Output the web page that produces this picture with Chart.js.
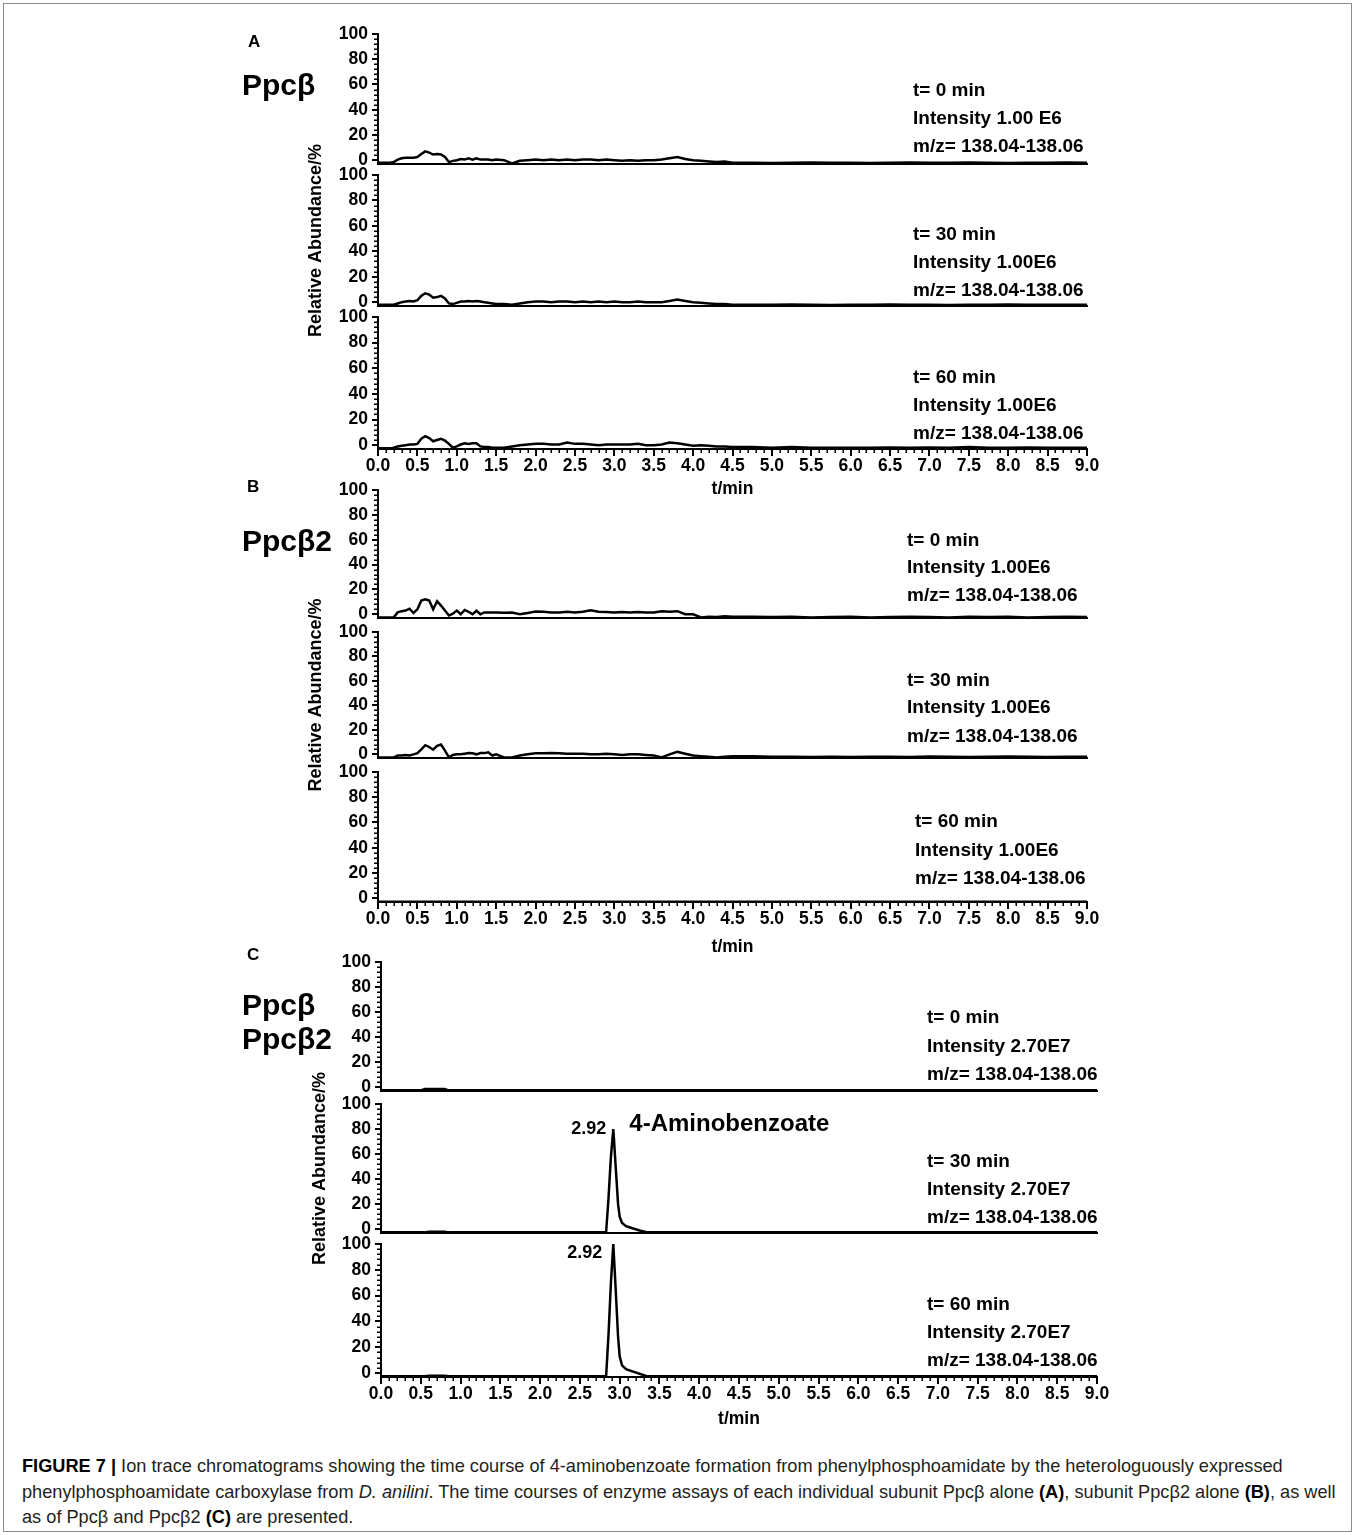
<!DOCTYPE html>
<html>
<head>
<meta charset="utf-8">
<script src="https://cdn.jsdelivr.net/npm/chart.js@4.4.1/dist/chart.umd.min.js"></script>
<style>
  html, body { margin: 0; padding: 0; background: #fff; }
  #page { position: relative; width: 1357px; height: 1535px; overflow: hidden; }
  #page canvas { position: absolute; left: 0; top: 0; }
  #frame { position: absolute; left: 3px; top: 3px; width: 1349px; height: 1529px; border: 1px solid #8a8a8a; box-sizing: border-box; }
  #caption { position: absolute; left: 22px; top: 1454px; font: 18.2px 'Liberation Sans', Arial, sans-serif; line-height: 25.5px; color: #231f20; white-space: nowrap; }
  #caption b { color: #000; }
</style>
</head>
<body>
<div id="page">
  <div id="frame"></div>
  <div id="caption">
    <b>FIGURE 7 |</b> Ion trace chromatograms showing the time course of 4-aminobenzoate formation from phenylphosphoamidate by the heterologuously expressed<br>
    phenylphosphoamidate carboxylase from <i>D. anilini</i>. The time courses of enzyme assays of each individual subunit Ppcβ alone <b>(A)</b>, subunit Ppcβ2 alone <b>(B)</b>, as well<br>
    as of Ppcβ and Ppcβ2 <b>(C)</b> are presented.
  </div>
</div>
<script>
// sample times (min) for the noisy baseline traces
const noiseTimes = [
  0, 0.05, 0.1, 0.15, 0.2, 0.25, 0.3, 0.35, 0.4, 0.45, 0.5, 0.55, 0.6, 0.65, 0.7, 0.75,
  0.8, 0.85, 0.9, 0.95, 1.0, 1.05, 1.1, 1.15, 1.2, 1.25, 1.3, 1.35, 1.4, 1.45, 1.5,
  1.6, 1.7, 1.8, 1.9, 2.0, 2.1, 2.2, 2.3, 2.4, 2.5, 2.6, 2.7, 2.8, 2.9, 3.0,
  3.1, 3.2, 3.3, 3.4, 3.5, 3.6, 3.7, 3.8, 3.9, 4.0, 4.1, 4.2, 4.3, 4.4, 4.5,
  4.75, 5.0, 5.25, 5.5, 5.75, 6.0, 6.25, 6.5, 6.75, 7.0, 7.25, 7.5, 7.75, 8.0, 8.25, 8.5, 8.75, 9.0
]

// relative abundance (%)
const a1Values = [
  -2, -2, -2, -2, -1.5, 0.5, 1.5, 2, 2, 2, 2.5, 5, 7, 6, 4.5, 5,
  4.5, 2.5, -1.5, -0.5, 0, 1, 0.5, 1.5, 0.5, 1.5, 0.5, 0.5, 0.5, 0, 0.5,
  0, -2.5, -0.5, 0, 0.5, 0, 0.5, 0, 0.5, 0, 0.5, 0.5, 0, 0.5, 0,
  -0.5, 0, -0.5, 0, 0, 0.5, 1.5, 2.5, 1, 0, -0.5, -1, -1.5, -1, -2,
  -2, -2.2, -2, -1.8, -2, -2, -2.2, -2, -1.8, -2, -2, -1.8, -2, -2.2, -2, -2, -1.8, -2
]
const a2Values = [
  -2, -2, -2, -2, -2, -1, 0, 0.5, 1, 0.5, 1.5, 5, 7, 6, 3.5, 4,
  5, 3, -1, -1.5, -0.5, 0.5, 0.5, 1, 0.5, 1, 0.5, 0, -0.5, -1, -1.5,
  -1.5, -2, -1, 0, 0.5, 0.5, 0, 0.5, 0.5, 0, 0.5, 0, 0.5, 0, 0.5,
  0, 0, 0.5, 0, 0, 0, 1, 2, 1, 0, -0.5, -1, -1.5, -1.5, -2,
  -2, -2, -1.8, -2, -2.2, -2, -2, -1.8, -2, -2, -2.2, -2, -2, -1.8, -2, -2, -2, -2
]
const a3Values = [
  -2.5, -2.5, -2.5, -2.5, -2, -1, -0.5, 0, 0.5, 0.5, 1, 5, 7, 5.5, 3, 4,
  5, 3.5, 1, -2, -1, 0.5, 1.5, 1, 1.5, 1.5, -1, -1.5, -1.5, -2, -2,
  -2, -1, 0, 0.5, 1, 1, 0.5, 0.5, 2, 1, 1, 0.5, 0, 0.5, 0.5,
  0.5, 0.5, 1, 0, 0, 0.5, 2, 1.5, 0.5, -0.5, 0, -0.5, -1, -1, -1.5,
  -1.5, -2, -1.5, -2, -2, -2, -2, -1.8, -2, -1.8, -2, -1.5, -2, -2, -1.8, -2, -2, -2
]
const b1Values = [
  -2.5, -2.5, -2.5, -2.5, -2.5, 1.5, 2.5, 3, 4.5, 1, 4, 11, 12, 11, 4, 10.5,
  7, 3, -1, 0.5, 3, 0, 3.5, 2, 0, 2.8, 0, 1.5, 1.5, 1.5, 1.5,
  1.2, 1.4, 0, 1, 2.2, 2, 1.5, 1.5, 2, 1.5, 2, 3.3, 2, 1.8, 1.5,
  1.8, 1.5, 1.8, 1.5, 1.5, 2.5, 2, 2.5, 0, 0, -2.5, -2, -2.2, -1.5, -2,
  -2, -2.2, -2, -2.5, -2.2, -2, -2.5, -2.2, -2, -2.2, -2.5, -2, -2.2, -2, -2.5, -2.2, -2, -2.2
]
const b2Values = [
  -2.5, -2.5, -2.5, -2.5, -2.5, -1, -1, -0.5, -1, 0, 1, 4, 7.5, 6, 3.8, 7,
  8, 3, -2.5, -0.5, 0, 0, 0.5, 1, 0.8, 0, 1, 1, 1.6, -1, 0,
  -2.5, -2.5, -1, 0, 0.8, 0.8, 1, 0.8, 0.5, 0.5, 0.5, 0, 0, 0.5, 0,
  -0.5, 0, 0, -0.5, -1, -2.5, 0, 2, 0.5, -1, -1.5, -2, -2.5, -2, -1.5,
  -1.5, -2, -2, -2.2, -2, -2.2, -2, -2, -2.2, -1.8, -2, -2.2, -2, -1.8, -2, -2.2, -2, -2
]
const flatTimes = [0, 9]
const b3Values = [-2.8, -2.8]
const c1Times = [0, 0.5, 0.55, 0.8, 0.85, 9]
const c1Values = [-2.5, -2.5, -1.5, -1.5, -2.5, -2.5]
const peakTimes = [0, 0.55, 0.6, 0.8, 0.85, 2.8, 2.83, 2.86, 2.89, 2.92, 2.95, 2.98, 3.0, 3.03, 3.08, 3.15, 3.25, 3.35, 9]
const c2Values = [-2.5, -2.5, -2, -2, -2.5, -2.5, -2, 25, 58, 80, 50, 20, 10, 5, 2.5, 1, -1, -2.5, -2.5]
const c3Values = [-2.5, -2.5, -2, -2, -2.5, -2.5, -2, 30, 70, 100, 65, 28, 13, 6, 3, 1.5, -0.5, -2.5, -2.5]

const xTicks = [0, 0.5, 1, 1.5, 2, 2.5, 3, 3.5, 4, 4.5, 5, 5.5, 6, 6.5, 7, 7.5, 8, 8.5, 9]
const yTicks = [0, 20, 40, 60, 80, 100]
const yMinorStep = 4
const xMinorStep = 0.1

const PAGE_W = 1357
const PAGE_H = 1535
const FONT = "'Liberation Sans', Arial, Helvetica, sans-serif"
const bold = (size) => `bold ${size}px ${FONT}`

const info = (x, ys, t, intensity) => [
  { text: t, x, y: ys[0], font: bold(19) },
  { text: intensity, x, y: ys[1], font: bold(19) },
  { text: "m/z= 138.04-138.06", x, y: ys[2], font: bold(19) }
]

const subplots = [
  { times: noiseTimes, values: a1Values, axisX: 378, right: 1087, top: 34, bottom: 164,
    texts: info(913, [91, 119, 147], "t= 0 min", "Intensity 1.00 E6"),
    labels: [{ text: "A", x: 248, y: 47, font: bold(17) }, { text: "Ppcβ", x: 242, y: 95, font: bold(30) }] },
  { times: noiseTimes, values: a2Values, axisX: 378, right: 1087, top: 175, bottom: 306, yTitleX: 316,
    texts: info(913, [235, 263, 291], "t= 30 min", "Intensity 1.00E6") },
  { times: noiseTimes, values: a3Values, axisX: 378, right: 1087, top: 317, bottom: 449, showX: true, titleOffset: 41,
    texts: info(913, [378, 406, 434], "t= 60 min", "Intensity 1.00E6") },

  { times: noiseTimes, values: b1Values, axisX: 378, right: 1087, top: 490, bottom: 618,
    texts: info(907, [541, 568, 596], "t= 0 min", "Intensity 1.00E6"),
    labels: [{ text: "B", x: 247, y: 492, font: bold(17) }, { text: "Ppcβ2", x: 242, y: 551, font: bold(30) }] },
  { times: noiseTimes, values: b2Values, axisX: 378, right: 1087, top: 632, bottom: 758, yTitleX: 316,
    texts: info(907, [681, 708, 737], "t= 30 min", "Intensity 1.00E6") },
  { times: flatTimes, values: b3Values, axisX: 378, right: 1087, top: 772, bottom: 902, showX: true, titleOffset: 46,
    texts: info(915, [822, 851, 879], "t= 60 min", "Intensity 1.00E6") },

  { times: c1Times, values: c1Values, axisX: 381, right: 1097, top: 962, bottom: 1091,
    texts: info(927, [1018, 1047, 1075], "t= 0 min", "Intensity 2.70E7"),
    labels: [{ text: "C", x: 247, y: 960, font: bold(17) }, { text: "Ppcβ", x: 242, y: 1015, font: bold(30) },
             { text: "Ppcβ2", x: 242, y: 1049, font: bold(30) }] },
  { times: peakTimes, values: c2Values, axisX: 381, right: 1097, top: 1104, bottom: 1233, yTitleX: 320,
    texts: info(927, [1162, 1190, 1218], "t= 30 min", "Intensity 2.70E7"),
    peak: { at: 2.92, label: "2.92", dx: -7, dy: 0, name: "4-Aminobenzoate" } },
  { times: peakTimes, values: c3Values, axisX: 381, right: 1097, top: 1244, bottom: 1377, showX: true, titleOffset: 43,
    texts: info(927, [1305, 1333, 1361], "t= 60 min", "Intensity 2.70E7"),
    peak: { at: 2.92, label: "2.92", dx: -11, dy: 9 } }
]

// minor ticks, side texts and peak labels
const decor = {
  id: "decor",
  afterDraw(chart, args, opts) {
    const { ctx, chartArea, scales: { x, y } } = chart
    ctx.save()
    ctx.strokeStyle = "#000"
    ctx.lineWidth = 1.5
    ctx.beginPath()
    for (let v = 0; v <= 100; v += yMinorStep) {
      if (v % 20 === 0) continue
      const py = Math.round(y.getPixelForValue(v)) + 0.25
      ctx.moveTo(chartArea.left - 4, py)
      ctx.lineTo(chartArea.left, py)
    }
    if (opts.showX) {
      for (let i = 0; i <= Math.round(9 / xMinorStep); i++) {
        if (i % 5 === 0) continue
        const px = Math.round(x.getPixelForValue(i * xMinorStep)) + 0.25
        ctx.moveTo(px, chartArea.bottom)
        ctx.lineTo(px, chartArea.bottom + 4)
      }
    }
    ctx.stroke()

    ctx.fillStyle = "#000"
    ctx.textAlign = "left"
    ctx.textBaseline = "middle"
    for (const t of opts.texts || []) {
      ctx.font = t.font
      ctx.fillText(t.text, t.x, t.y)
    }
    ctx.textBaseline = "alphabetic"
    for (const t of opts.labels || []) {
      ctx.font = t.font
      ctx.fillText(t.text, t.x, t.y)
    }
    if (opts.peak) {
      const p = opts.peak
      const top = Math.max(...opts.values)
      const px = x.getPixelForValue(p.at)
      const py = y.getPixelForValue(top)
      ctx.font = bold(18)
      ctx.textAlign = "right"
      ctx.textBaseline = "middle"
      ctx.fillText(p.label, px + p.dx, py + p.dy)
      if (p.name) {
        ctx.font = bold(24)
        ctx.textAlign = "left"
        ctx.textBaseline = "alphabetic"
        ctx.fillText(p.name, px + 16, py + 2)
      }
    }
    ctx.restore()
  }
}

const page = document.getElementById("page")

for (const sp of subplots) {
  const canvas = document.createElement("canvas")
  canvas.width = PAGE_W
  canvas.height = PAGE_H
  canvas.style.width = PAGE_W + "px"
  canvas.style.height = PAGE_H + "px"
  page.appendChild(canvas)

  const showX = !!sp.showX
  const xHeight = showX ? sp.titleOffset + 10 : 0
  const tickFont = { family: FONT, size: 17.5, weight: "bold" }

  new Chart(canvas, {
    type: "line",
    data: {
      datasets: [{
        data: sp.times.map((t, i) => ({ x: t, y: sp.values[i] })),
        borderColor: "#000",
        borderWidth: 2.5,
        pointRadius: 0,
        tension: 0,
        fill: false
      }]
    },
    options: {
      responsive: false,
      animation: false,
      events: [],
      layout: {
        padding: { left: 0, top: sp.top, right: PAGE_W - sp.right, bottom: PAGE_H - sp.bottom - xHeight }
      },
      plugins: {
        legend: { display: false },
        tooltip: { enabled: false },
        decor: { showX, texts: sp.texts, labels: sp.labels, peak: sp.peak, values: sp.values }
      },
      scales: {
        x: {
          type: "linear",
          min: 0,
          max: 9,
          afterFit: (s) => { s.height = xHeight },
          afterBuildTicks: (s) => { s.ticks = xTicks.map((v) => ({ value: v })) },
          ticks: {
            display: showX,
            font: tickFont,
            color: "#000",
            padding: 0,
            maxRotation: 0,
            autoSkip: false,
            callback: (v) => Number(v).toFixed(1)
          },
          grid: { display: showX, drawOnChartArea: false, drawTicks: true, tickLength: 7, color: "#000", lineWidth: 2 },
          border: { display: true, color: "#000", width: 2 },
          title: { display: showX, text: "t/min", color: "#000", font: tickFont, padding: 0 }
        },
        y: {
          min: -3,
          max: 100,
          afterFit: (s) => { s.width = sp.axisX },
          afterBuildTicks: (s) => { s.ticks = yTicks.map((v) => ({ value: v })) },
          ticks: { font: tickFont, color: "#000", padding: 4 },
          grid: { drawOnChartArea: false, drawTicks: true, tickLength: 6, color: "#000", lineWidth: 2 },
          border: { display: true, color: "#000", width: 2 },
          title: {
            display: !!sp.yTitleX,
            text: "Relative Abundance/%",
            color: "#000",
            font: { family: FONT, size: 18, weight: "bold" },
            padding: { top: (sp.yTitleX || 0) - 11, bottom: 0 }
          }
        }
      }
    },
    plugins: [decor]
  })
}
</script>
</body>
</html>
